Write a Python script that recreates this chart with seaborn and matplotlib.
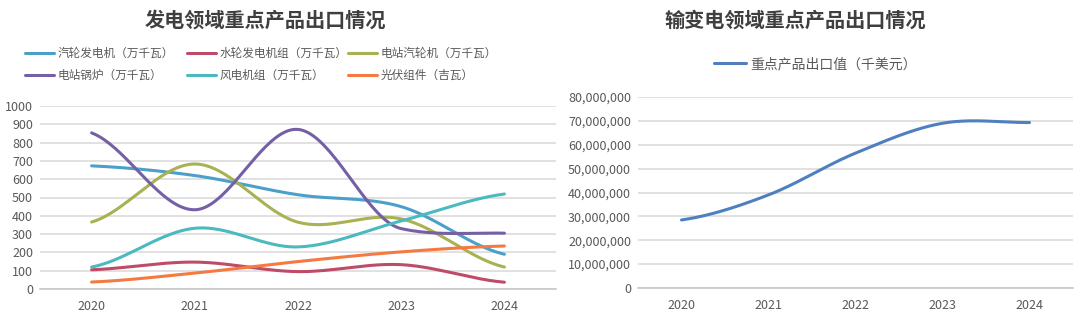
import numpy as np
import pandas as pd
import matplotlib
matplotlib.use("Agg")
import matplotlib.pyplot as plt
import seaborn as sns
from matplotlib.ticker import FuncFormatter

# ---------------- data ----------------
years = ["2020", "2021", "2022", "2023", "2024"]

gen_series = ["汽轮发电机（万千瓦）", "水轮发电机组（万千瓦）", "电站汽轮机（万千瓦）",
              "电站锅炉（万千瓦）", "风电机组（万千瓦）", "光伏组件（吉瓦）"]
turbo_gen = [673, 620, 515, 450, 190]
hydro_gen = [105, 147, 95, 133, 37]
steam_turbine = [366, 683, 365, 383, 120]
boiler = [853, 433, 872, 330, 305]
wind = [120, 332, 230, 372, 519]
pv = [38, 87, 150, 203, 235]

trans_label = "重点产品出口值（千美元）"
trans_values = [28500000, 39000000, 56500000, 69000000, 69300000]

# ---------------- style ----------------
sns.set_theme(style="white")
plt.rcParams['font.family'] = ['Noto Sans CJK SC', 'DejaVu Sans']
plt.rcParams['axes.unicode_minus'] = False

gen_colors = ["#4AA0C8", "#BE4B68", "#A9B152", "#7560A5", "#4BB9C0", "#F47A42"]
trans_color = "#4E80BF"
grid_c = "#DCDCDC"
tick_c = "#595959"
title_c = "#3F3F3F"


def smooth_curve(xs, ys, n=40, limit=None):
    """Bezier smoothing (Catmull-Rom tangents), optional tangent limiter."""
    x = np.asarray(xs, float)
    y = np.asarray(ys, float)
    k = len(x)
    s = np.diff(y) / np.diff(x)
    m = np.zeros(k)
    m[0] = s[0] / 2.0
    m[-1] = s[-1] / 2.0
    for i in range(1, k - 1):
        m[i] = (y[i + 1] - y[i - 1]) / (x[i + 1] - x[i - 1])
        if limit and s[i - 1] * s[i] > 0:
            lim = limit * min(abs(s[i - 1]), abs(s[i]))
            if abs(m[i]) > lim:
                m[i] = np.sign(m[i]) * lim
    out_x, out_y = [], []
    for i in range(k - 1):
        h = x[i + 1] - x[i]
        t = np.linspace(0, 1, n)
        h00 = 2 * t ** 3 - 3 * t ** 2 + 1
        h10 = t ** 3 - 2 * t ** 2 + t
        h01 = -2 * t ** 3 + 3 * t ** 2
        h11 = t ** 3 - t ** 2
        yy = h00 * y[i] + h10 * h * m[i] + h01 * y[i + 1] + h11 * h * m[i + 1]
        xx = x[i] + t * h
        if i > 0:
            xx, yy = xx[1:], yy[1:]
        out_x.append(xx)
        out_y.append(yy)
    return np.concatenate(out_x), np.concatenate(out_y)


fig = plt.figure(figsize=(10.8, 3.22), dpi=100)
ax1 = fig.add_axes([40 / 1080, 1 - 289 / 322, (556 - 40) / 1080, (289 - 106) / 322])
ax2 = fig.add_axes([638 / 1080, 1 - 288 / 322, (1073 - 638) / 1080, (288 - 97) / 322])

xpos = np.arange(len(years))


def style_axis(ax):
    ax.set_xlim(-0.5, len(years) - 0.5)
    ax.set_xticks(xpos)
    ax.set_xticklabels(years)
    ax.grid(axis="y", color=grid_c, linewidth=1.2)
    ax.set_axisbelow(True)
    for s in ["top", "right", "left"]:
        ax.spines[s].set_visible(False)
    ax.spines["bottom"].set_color("#C8C8C8")
    ax.spines["bottom"].set_linewidth(1.2)
    ax.tick_params(axis="both", length=0, labelsize=9, colors=tick_c)
    ax.tick_params(axis="x", pad=8)
    ax.tick_params(axis="y", pad=5)
    ax.set_xlabel("")
    ax.set_ylabel("")


# ---------------- left chart ----------------
gen_values = [turbo_gen, hydro_gen, steam_turbine, boiler, wind, pv]
handles = []
for name, vals, col in zip(gen_series, gen_values, gen_colors):
    sx, sy = smooth_curve(xpos, vals, limit=5)
    df = pd.DataFrame({"x": sx, "y": sy})
    sns.lineplot(data=df, x="x", y="y", ax=ax1, color=col, linewidth=2.2,
                 sort=False, estimator=None, legend=False,
                 solid_capstyle="round")
    handles.append(ax1.lines[-1])
ax1.set_ylim(0, 1000)
ax1.set_yticks(np.arange(0, 1001, 100))
style_axis(ax1)

fig.text(265 / 1080, 1 - 20 / 322, "发电领域重点产品出口情况", ha="center", va="center",
         fontsize=14.5, fontweight="bold", color=title_c)

col_x = [25, 187, 348]
for ci in range(3):
    hs = [handles[ci], handles[ci + 3]]
    ls = [gen_series[ci], gen_series[ci + 3]]
    fig.legend(hs, ls, loc="upper left", bbox_to_anchor=(col_x[ci] / 1080, 1 - 47 / 322),
               frameon=False, fontsize=8.4, handlelength=2.5, handletextpad=0.3,
               labelspacing=0.75, borderaxespad=0, borderpad=0, labelcolor=tick_c)

# ---------------- right chart ----------------
sx, sy = smooth_curve(xpos, trans_values)
df2 = pd.DataFrame({"x": sx, "y": sy})
sns.lineplot(data=df2, x="x", y="y", ax=ax2, color=trans_color, linewidth=2.2,
             sort=False, estimator=None, legend=False, solid_capstyle="round")
ax2.set_ylim(0, 80000000)
ax2.set_yticks(np.arange(0, 80000001, 10000000))
ax2.yaxis.set_major_formatter(FuncFormatter(lambda v, p: f"{int(v):,}"))
style_axis(ax2)

fig.text(795 / 1080, 1 - 20 / 322, "输变电领域重点产品出口情况", ha="center", va="center",
         fontsize=14.5, fontweight="bold", color=title_c)
fig.legend([ax2.lines[-1]], [trans_label], loc="center", bbox_to_anchor=(815 / 1080, 1 - 64 / 322),
           frameon=False, fontsize=10, handlelength=2.3, handletextpad=0.3,
           borderaxespad=0, borderpad=0, labelcolor=tick_c)

fig.savefig("out.png", dpi=100, facecolor="white")
